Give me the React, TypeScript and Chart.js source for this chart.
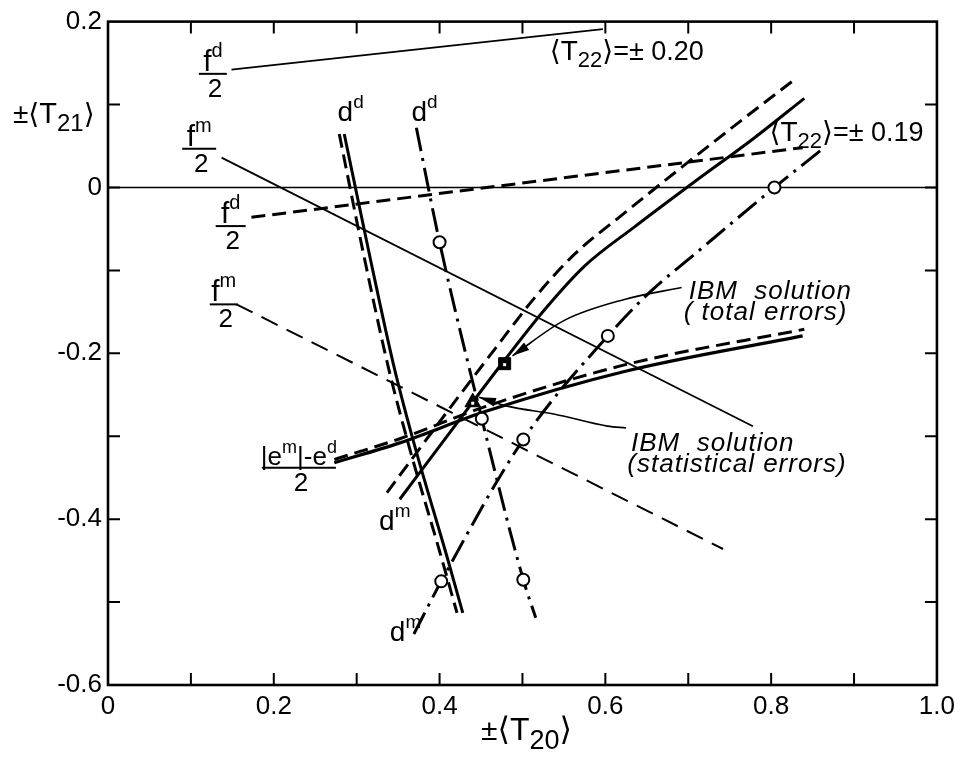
import React, { useEffect, useRef } from "react";
import { Chart, registerables } from "chart.js";

Chart.register(...registerables);

const FONT = "'Liberation Sans', 'DejaVu Sans', Arial, sans-serif";

// ---- axis ticks ----
const X_TICK_VALUES = [0, 0.2, 0.4, 0.6, 0.8, 1.0];
const X_TICK_LABELS = ["0", "0.2", "0.4", "0.6", "0.8", "1.0"];
const Y_TICK_VALUES = [0.2, 0, -0.2, -0.4, -0.6];
const Y_TICK_LABELS = ["0.2", "0", "-0.2", "-0.4", "-0.6"];

// ---- series: <T22> = ±0.20 (solid) ----
const fdSolid = [[0.149, 0.142], [0.597, 0.191]];
const fmSolid = [[0.137, 0.036], [0.778, -0.288]];
const ddSolid = [[0.285, 0.0645], [0.315, -0.079], [0.345, -0.216], [0.369, -0.308], [0.41, -0.449], [0.428, -0.513]];
const dmSolid = [[0.352, -0.376], [0.42, -0.2854], [0.4797, -0.2066], [0.5274, -0.1465], [0.5752, -0.0945], [0.6348, -0.0478], [0.7064, 0.006], [0.778, 0.0585], [0.84, 0.1075]];
const eSolid = [[0.273, -0.332], [0.352, -0.308], [0.456, -0.27], [0.623, -0.222], [0.838, -0.179]];

// ---- series: <T22> = ±0.19 (dashed) ----
const fdDashed = [[0.173, -0.036], [0.838, 0.048]];
const fmDashed = [[0.155, -0.141], [0.742, -0.436]];
const ddDashed = [[0.279, 0.0645], [0.308, -0.079], [0.338, -0.216], [0.362, -0.308], [0.403, -0.449], [0.421, -0.513]];
const dmDashed = [[0.3365, -0.368], [0.408, -0.272], [0.4678, -0.1934], [0.5155, -0.132], [0.5632, -0.0802], [0.6229, -0.031], [0.6945, 0.0263], [0.7661, 0.0824], [0.828, 0.13]];
const eDashed = [[0.273, -0.328], [0.352, -0.303], [0.456, -0.264], [0.623, -0.214], [0.84, -0.171]];

// ---- series: statistical (dash-dot with circles) ----
const ddStat = [[0.372, 0.072], [0.4, -0.066], [0.451, -0.279], [0.501, -0.473], [0.516, -0.519]];
const ddStatCircles = [[0.4, -0.066], [0.451, -0.279], [0.501, -0.473]];
const dmStat = [[0.369, -0.5385], [0.402, -0.475], [0.501, -0.304], [0.603, -0.179], [0.655, -0.125], [0.706, -0.082], [0.804, 0.0], [0.864, 0.048]];
const dmStatCircles = [[0.402, -0.475], [0.501, -0.304], [0.603, -0.179], [0.804, 0.0]];

// ---- reference line, solutions, leaders ----
const zeroLine = [[0, 0], [1, 0]];
const ibmTotal = [[0.4785, -0.2125]];
const ibmStat = [[0.44, -0.259]];
const leaderTotal = [[0.692, -0.1206], [0.623, -0.135], [0.551, -0.16], [0.488, -0.203]];
const leaderStat = [[0.625, -0.29], [0.6026, -0.2878], [0.539, -0.2734], [0.483, -0.264], [0.4475, -0.253]];

const pts = (a: number[][]) => a.map(([x, y]) => ({ x, y }));

type Run = { t: string; s: number; dy?: number };

const FRACTIONS: { x: number; y: number; half: number; num: Run[] }[] = [
  { x: 0.1265, y: 0.137, half: 14, num: [{ t: "f", s: 30 }, { t: "d", s: 20, dy: -14 }] },
  { x: 0.11, y: 0.0466, half: 17, num: [{ t: "f", s: 30 }, { t: "m", s: 20, dy: -14 }] },
  { x: 0.148, y: -0.0466, half: 15, num: [{ t: "f", s: 30 }, { t: "d", s: 20, dy: -14 }] },
  { x: 0.1396, y: -0.141, half: 14, num: [{ t: "f", s: 30 }, { t: "m", s: 20, dy: -14 }] },
  {
    x: 0.2303, y: -0.338, half: 37,
    num: [{ t: "|e", s: 26 }, { t: "m", s: 18, dy: -12 }, { t: "|-e", s: 26 }, { t: "d", s: 18, dy: -12 }],
  },
];

const RUN_LABELS: { x: number; y: number; runs: Run[]; italic?: boolean; spacing?: number }[] = [
  { x: 0.277, y: 0.08, runs: [{ t: "d", s: 28 }, { t: "d", s: 19, dy: -13 }] },
  { x: 0.366, y: 0.08, runs: [{ t: "d", s: 28 }, { t: "d", s: 19, dy: -13 }] },
  { x: 0.327, y: -0.413, runs: [{ t: "d", s: 28 }, { t: "m", s: 19, dy: -13 }] },
  { x: 0.34, y: -0.547, runs: [{ t: "d", s: 28 }, { t: "m", s: 19, dy: -13 }] },
  { x: 0.533, y: 0.154, runs: [{ t: "⟨", s: 28 }, { t: "T", s: 28 }, { t: "22", s: 22, dy: 7 }, { t: "⟩", s: 28 }, { t: "=± 0.20", s: 27 }] },
  { x: 0.798, y: 0.056, runs: [{ t: "⟨", s: 28 }, { t: "T", s: 28 }, { t: "22", s: 22, dy: 7 }, { t: "⟩", s: 28 }, { t: "=± 0.19", s: 27 }] },
  { x: 0.7005, y: -0.135, runs: [{ t: "IBM  solution", s: 26 }], italic: true, spacing: 1 },
  { x: 0.6945, y: -0.16, runs: [{ t: "( total errors)", s: 26 }], italic: true, spacing: 1 },
  { x: 0.631, y: -0.3176, runs: [{ t: "IBM  solution", s: 26 }], italic: true, spacing: 1 },
  { x: 0.6265, y: -0.3427, runs: [{ t: "(statistical errors)", s: 26 }], italic: true, spacing: 1 },
  { x: -0.1146, y: 0.0776, runs: [{ t: "±", s: 28 }, { t: "⟨", s: 28 }, { t: "T", s: 29 }, { t: "21", s: 24, dy: 8 }, { t: "⟩", s: 28 }] },
  { x: 0.45, y: -0.6663, runs: [{ t: "±", s: 30 }, { t: "⟨", s: 32 }, { t: "T", s: 32 }, { t: "20", s: 27, dy: 9 }, { t: "⟩", s: 32 }] },
];

const fnt = (s: number, italic?: boolean) => `${italic ? "italic " : ""}${s}px ${FONT}`;

function runsWidth(ctx: CanvasRenderingContext2D, runs: Run[], italic?: boolean) {
  let w = 0;
  for (const r of runs) {
    ctx.font = fnt(r.s, italic);
    w += ctx.measureText(r.t).width;
  }
  return w;
}

function drawRuns(ctx: CanvasRenderingContext2D, runs: Run[], x: number, y: number, italic?: boolean) {
  let cx = x;
  for (const r of runs) {
    ctx.font = fnt(r.s, italic);
    ctx.fillText(r.t, cx, y + (r.dy ?? 0));
    cx += ctx.measureText(r.t).width;
  }
}

const decorPlugin = {
  id: "decor",
  afterDatasetsDraw(chart: any) {
    const { ctx, chartArea: a, scales } = chart;
    const xs = scales.x;
    const ys = scales.y;
    const X = (v: number) => xs.getPixelForValue(v);
    const Y = (v: number) => ys.getPixelForValue(v);
    ctx.save();
    ctx.strokeStyle = "#000";
    ctx.fillStyle = "#000";
    // frame
    ctx.lineWidth = 2.6;
    ctx.strokeRect(a.left, a.top, a.right - a.left, a.bottom - a.top);
    // inward ticks
    const TL = 12;
    ctx.lineWidth = 2;
    ctx.beginPath();
    xs.ticks.forEach((t: any) => {
      if (t.value <= xs.min + 1e-9 || t.value >= xs.max - 1e-9) return;
      const px = X(t.value);
      ctx.moveTo(px, a.bottom);
      ctx.lineTo(px, a.bottom - TL);
      ctx.moveTo(px, a.top);
      ctx.lineTo(px, a.top + TL);
    });
    ys.ticks.forEach((t: any) => {
      if (t.value <= ys.min + 1e-9 || t.value >= ys.max - 1e-9) return;
      const py = Y(t.value);
      ctx.moveTo(a.left, py);
      ctx.lineTo(a.left + TL, py);
      ctx.moveTo(a.right, py);
      ctx.lineTo(a.right - TL, py);
    });
    ctx.stroke();
    // arrowheads at leader ends
    for (const ld of [leaderTotal, leaderStat]) {
      const n = ld.length;
      const tx = X(ld[n - 1][0]);
      const ty = Y(ld[n - 1][1]);
      const px = X(ld[n - 2][0]);
      const py = Y(ld[n - 2][1]);
      const ang = Math.atan2(ty - py, tx - px);
      const L = 17;
      const W = 4.5;
      const bx = tx - Math.cos(ang) * L;
      const by = ty - Math.sin(ang) * L;
      ctx.beginPath();
      ctx.moveTo(tx, ty);
      ctx.lineTo(bx + Math.sin(ang) * W, by - Math.cos(ang) * W);
      ctx.lineTo(bx - Math.sin(ang) * W, by + Math.cos(ang) * W);
      ctx.closePath();
      ctx.fill();
    }
    // small white specks inside the solution markers (as printed)
    ctx.fillStyle = "#fff";
    for (const m of [ibmTotal, ibmStat]) {
      const mx = X(m[0][0]);
      const my = Y(m[0][1]);
      ctx.fillRect(mx - 1.5, my - 0.5, 3, 3);
    }
    ctx.fillStyle = "#000";
    // text
    ctx.textAlign = "left";
    ctx.textBaseline = "alphabetic";
    for (const f of FRACTIONS) {
      const cx = X(f.x);
      const cy = Y(f.y);
      const w = runsWidth(ctx, f.num);
      drawRuns(ctx, f.num, cx - w / 2, cy - 3);
      ctx.lineWidth = 2;
      ctx.beginPath();
      ctx.moveTo(cx - f.half, cy);
      ctx.lineTo(cx + f.half, cy);
      ctx.stroke();
      ctx.font = fnt(26);
      const w2 = ctx.measureText("2").width;
      ctx.fillText("2", cx - w2 / 2 + 2, cy + 23);
    }
    for (const l of RUN_LABELS) {
      (ctx as any).letterSpacing = `${l.spacing ?? 0}px`;
      drawRuns(ctx, l.runs, X(l.x), Y(l.y), l.italic);
    }
    (ctx as any).letterSpacing = "0px";
    ctx.restore();
  },
};

function lineDs(data: number[][], width: number, dash: number[], smooth: boolean, order = 5) {
  return {
    data: pts(data),
    showLine: true,
    borderColor: "#000",
    borderWidth: width,
    borderDash: dash,
    borderCapStyle: "butt",
    pointRadius: 0,
    pointHoverRadius: 0,
    tension: smooth ? 0.4 : 0,
    cubicInterpolationMode: smooth ? "monotone" : "default",
    fill: false,
    order,
  };
}

function markerDs(data: number[][], style: string, radius: number, bg: string, bw: number) {
  return {
    data: pts(data),
    showLine: false,
    pointStyle: style,
    pointRadius: radius,
    pointHoverRadius: radius,
    backgroundColor: bg,
    borderColor: "#000",
    borderWidth: bw,
    order: 0,
  };
}

const DASH = [14, 7];
const THIN_DASH = [18, 10];
const DASH_DOT = [24, 7, 3, 7];

export default function App() {
  const ref = useRef<HTMLCanvasElement>(null);
  useEffect(() => {
    if (!ref.current) return;
    const chart = new Chart(ref.current, {
      type: "scatter",
      data: {
        datasets: [
          lineDs(zeroLine, 1.5, [], false, 9),
          lineDs(fdSolid, 1.8, [], false),
          lineDs(fmSolid, 1.8, [], false),
          lineDs(fdDashed, 3, DASH, false),
          lineDs(fmDashed, 2, THIN_DASH, false),
          lineDs(ddSolid, 3, [], true),
          lineDs(ddDashed, 3, DASH, true),
          lineDs(dmSolid, 3, [], true),
          lineDs(dmDashed, 3, DASH, true),
          lineDs(eSolid, 3.2, [], true),
          lineDs(eDashed, 3, DASH, true),
          lineDs(ddStat, 3, DASH_DOT, true),
          lineDs(dmStat, 3, DASH_DOT, true),
          lineDs(leaderTotal, 1.6, [], true),
          lineDs(leaderStat, 1.6, [], true),
          markerDs(ddStatCircles, "circle", 6, "#fff", 2),
          markerDs(dmStatCircles, "circle", 6, "#fff", 2),
          markerDs(ibmTotal, "rect", 8.5, "#000", 1),
          markerDs(ibmStat, "triangle", 9, "#000", 1),
        ] as any,
      },
      options: {
        responsive: false,
        animation: false,
        events: [],
        devicePixelRatio: 1,
        layout: { padding: { top: 15, right: 15, left: 0, bottom: 0 } },
        plugins: { legend: { display: false }, tooltip: { enabled: false } },
        scales: {
          x: {
            type: "linear",
            min: 0,
            max: 1,
            afterFit: (s: any) => {
              s.height = 73;
            },
            grid: { display: false, drawTicks: false },
            border: { display: false },
            ticks: {
              stepSize: 0.1,
              padding: 6,
              color: "#000",
              font: { family: FONT, size: 26 },
              maxRotation: 0,
              autoSkip: false,
              callback: (v: any) => {
                const i = X_TICK_VALUES.findIndex((t) => Math.abs(t - Number(v)) < 1e-6);
                return i >= 0 ? X_TICK_LABELS[i] : "";
              },
            },
          },
          y: {
            type: "linear",
            min: -0.6,
            max: 0.2,
            afterFit: (s: any) => {
              s.width = 108;
            },
            grid: { display: false, drawTicks: false },
            border: { display: false },
            ticks: {
              stepSize: 0.1,
              padding: 6,
              color: "#000",
              font: { family: FONT, size: 26 },
              autoSkip: false,
              callback: (v: any) => {
                const i = Y_TICK_VALUES.findIndex((t) => Math.abs(t - Number(v)) < 1e-6);
                return i >= 0 ? Y_TICK_LABELS[i] : "";
              },
            },
          },
        },
      } as any,
      plugins: [decorPlugin],
    });
    return () => chart.destroy();
  }, []);
  return (
    <div style={{ position: "absolute", left: 0, top: 0, width: 961, height: 758, background: "#fff" }}>
      <canvas ref={ref} width={961} height={758} style={{ display: "block" }} />
    </div>
  );
}
